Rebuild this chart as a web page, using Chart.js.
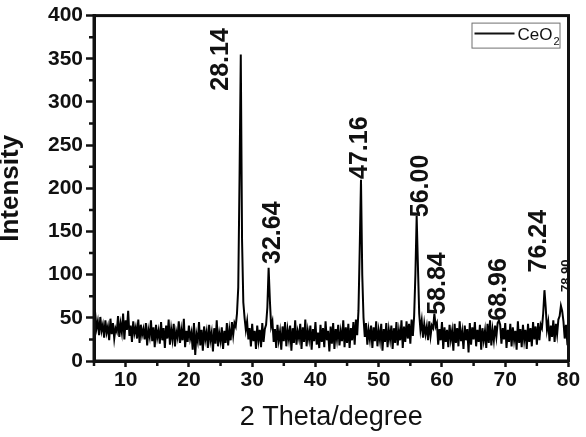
<!DOCTYPE html>
<html>
<head>
<meta charset="utf-8">
<script src="https://cdn.jsdelivr.net/npm/chart.js@4.4.1/dist/chart.umd.min.js"></script>
<style>
html,body{margin:0;padding:0;background:#fff;}
#wrap{width:586px;height:437px;position:relative;}
</style>
</head>
<body>
<div id="wrap"><canvas id="c" width="586" height="437"></canvas></div>
<script>
// ---- data ----
const thetaStart = 5;      // first 2θ value (degree)
const thetaStep = 0.2;     // 2θ sampling step (degree)
const intensity = [
  48, 54, 38, 46, 30, 51, 35, 42, 27, 47,
  33, 40, 24, 49, 31, 44, 26, 38, 34, 52,
  28, 43, 33, 55, 25, 47, 36, 58, 29, 41,
  22, 46, 32, 39, 26, 48, 21, 42, 30, 37,
  25, 44, 18, 36, 28, 47, 23, 39, 16, 42,
  27, 35, 20, 45, 24, 38, 15, 41, 26, 48,
  19, 37, 25, 43, 17, 34, 27, 46, 21, 36,
  24, 49, 16, 35, 22, 41, 26, 33, 13, 44,
  7, 31, 23, 45, 18, 36, 12, 40, 25, 34,
  15, 42, 24, 33, 11, 38, 20, 47, 17, 32,
  23, 39, 14, 35, 21, 44, 18, 36, 24, 45,
  30, 44, 40, 55, 85, 210, 355, 140, 68, 50,
  36, 46, 25, 38, 17, 43, 23, 35, 14, 41,
  24, 36, 16, 44, 22, 37, 42, 62, 108, 70,
  40, 46, 22, 37, 15, 42, 24, 34, 13, 40,
  23, 45, 17, 36, 25, 41, 12, 38, 21, 47,
  19, 34, 26, 43, 14, 39, 22, 48, 17, 35,
  25, 41, 13, 37, 23, 45, 19, 33, 15, 42,
  22, 38, 16, 46, 24, 35, 11, 40, 20, 44,
  14, 37, 25, 42, 18, 34, 23, 47, 16, 39,
  21, 43, 15, 38, 24, 45, 19, 48, 30, 58,
  130, 210, 100, 50, 28, 44, 19, 36, 25, 41,
  15, 39, 23, 46, 17, 35, 24, 43, 12, 37,
  22, 44, 16, 36, 25, 41, 14, 38, 21, 45,
  18, 35, 24, 47, 15, 40, 22, 46, 26, 43,
  20, 48, 29, 52, 100, 168, 110, 55, 36, 47,
  27, 43, 31, 40, 24, 46, 29, 41, 38, 55,
  40, 44, 19, 37, 24, 45, 14, 39, 22, 36,
  16, 42, 25, 35, 12, 43, 21, 38, 17, 46,
  23, 34, 14, 41, 24, 37, 10, 44, 19, 39,
  25, 45, 17, 36, 22, 42, 13, 38, 24, 35,
  15, 43, 21, 47, 18, 36, 24, 41, 28, 44,
  47, 42, 20, 38, 25, 44, 15, 36, 22, 43,
  17, 39, 24, 35, 13, 46, 21, 37, 16, 42,
  24, 36, 14, 43, 22, 38, 17, 45, 25, 40,
  19, 44, 24, 42, 38, 55, 82, 62, 36, 45,
  23, 41, 28, 47, 22, 43, 31, 48, 52, 64,
  58, 46, 26, 42, 22, 25
];
const peakTheta = [28.14, 32.64, 47.16, 56.00, 58.84, 68.96, 76.24, 78.90];
const peakIntensity = [355, 108, 210, 168, 55, 47, 82, 64];
const peakLabels = ['28.14', '32.64', '47.16', '56.00', '58.84', '68.96', '76.24', '78.90'];
const xMajorTicks = [10, 20, 30, 40, 50, 60, 70, 80];
const xMinorTicks = [5, 15, 25, 35, 45, 55, 65, 75];
const yMajorTicks = [0, 50, 100, 150, 200, 250, 300, 350, 400];
const yMinorTicks = [25, 75, 125, 175, 225, 275, 325, 375];
const seriesName = 'CeO\u2082';

// ---- styles ----
const FONT = '"Liberation Sans", Arial, Helvetica, sans-serif';
const labelOffsets = [[-19, 5], [4, -35], [-1, -32], [4, -30], [3, -30], [0, -31], [-6, -49], [5, -30]];
const labelSizes = [25, 25, 25, 25, 25, 25, 25, 13];

const points = intensity.map((v, i) => ({x: thetaStart + i * thetaStep, y: v}));

const framePlugin = {
  id: 'frame',
  afterDraw(chart) {
    const {ctx, chartArea: a, scales: {x, y}} = chart;
    ctx.save();
    ctx.strokeStyle = '#111';
    ctx.lineWidth = 3;
    ctx.strokeRect(a.left, a.top, a.right - a.left, a.bottom - a.top);
    // minor ticks
    ctx.lineWidth = 2.5;
    ctx.beginPath();
    xMinorTicks.forEach(v => {
      const px = x.getPixelForValue(v);
      ctx.moveTo(px, a.bottom);
      ctx.lineTo(px, a.bottom + 5);
    });
    yMinorTicks.forEach(v => {
      const py = y.getPixelForValue(v);
      ctx.moveTo(a.left, py);
      ctx.lineTo(a.left - 5, py);
    });
    ctx.stroke();
    // peak labels
    ctx.fillStyle = '#111';
    ctx.textAlign = 'center';
    ctx.textBaseline = 'middle';
    peakTheta.forEach((t, i) => {
      const px = x.getPixelForValue(t) + labelOffsets[i][0];
      const py = y.getPixelForValue(peakIntensity[i]) + labelOffsets[i][1];
      ctx.save();
      ctx.translate(px, py);
      ctx.rotate(-Math.PI / 2);
      ctx.font = 'bold ' + labelSizes[i] + 'px ' + FONT;
      ctx.fillText(peakLabels[i], 0, 0);
      ctx.restore();
    });
    // legend
    const bx = a.right - 97, by = a.top + 7;
    ctx.strokeStyle = '#707070';
    ctx.lineWidth = 1;
    ctx.strokeRect(bx + 0.5, by + 0.5, 88, 25);
    ctx.strokeStyle = '#111';
    ctx.lineWidth = 2;
    ctx.beginPath();
    ctx.moveTo(bx + 3, by + 11);
    ctx.lineTo(bx + 43, by + 11);
    ctx.stroke();
    ctx.textAlign = 'left';
    ctx.textBaseline = 'alphabetic';
    ctx.font = '17px ' + FONT;
    ctx.fillText('CeO', bx + 46, by + 17);
    const w = ctx.measureText('CeO').width;
    ctx.font = '11px ' + FONT;
    ctx.fillText('2', bx + 47 + w, by + 22);
    ctx.restore();
  }
};

new Chart(document.getElementById('c'), {
  type: 'line',
  data: {
    datasets: [{
      label: seriesName,
      data: points,
      borderColor: '#000',
      borderWidth: 2,
      pointRadius: 0,
      tension: 0,
      fill: false
    }]
  },
  options: {
    responsive: false,
    animation: false,
    layout: {padding: {left: 0, top: 13, right: 17.5, bottom: 0}},
    plugins: {legend: {display: false}, tooltip: {enabled: false}},
    scales: {
      x: {
        type: 'linear',
        min: 5, max: 80,
        border: {display: true, width: 3, color: '#111'},
        grid: {drawOnChartArea: false, drawTicks: true, tickLength: 6, tickWidth: 2.5, tickColor: '#111'},
        ticks: {color: '#111', font: {family: FONT, size: 21, weight: 'bold'}, padding: 1, maxRotation: 0, autoSkip: false},
        afterBuildTicks(s) { s.ticks = xMajorTicks.map(v => ({value: v})); },
        afterFit(s) { s.height = 76; },
        title: {display: true, text: '2 Theta/degree', color: '#111', font: {family: FONT, size: 27}, padding: {top: 0, bottom: 3}}
      },
      y: {
        min: 0, max: 400,
        border: {display: true, width: 3, color: '#111'},
        grid: {drawOnChartArea: false, drawTicks: true, tickLength: 8, tickWidth: 2.5, tickColor: '#111'},
        ticks: {color: '#111', font: {family: FONT, size: 21, weight: 'bold'}, padding: 3, autoSkip: false},
        afterBuildTicks(s) { s.ticks = yMajorTicks.map(v => ({value: v})); },
        afterFit(s) { s.width = 94; },
        title: {display: true, text: 'Intensity', color: '#111', font: {family: FONT, size: 26, weight: 'bold', lineHeight: 0.8}, padding: 0}
      }
    }
  },
  plugins: [framePlugin]
});
</script>
</body>
</html>
